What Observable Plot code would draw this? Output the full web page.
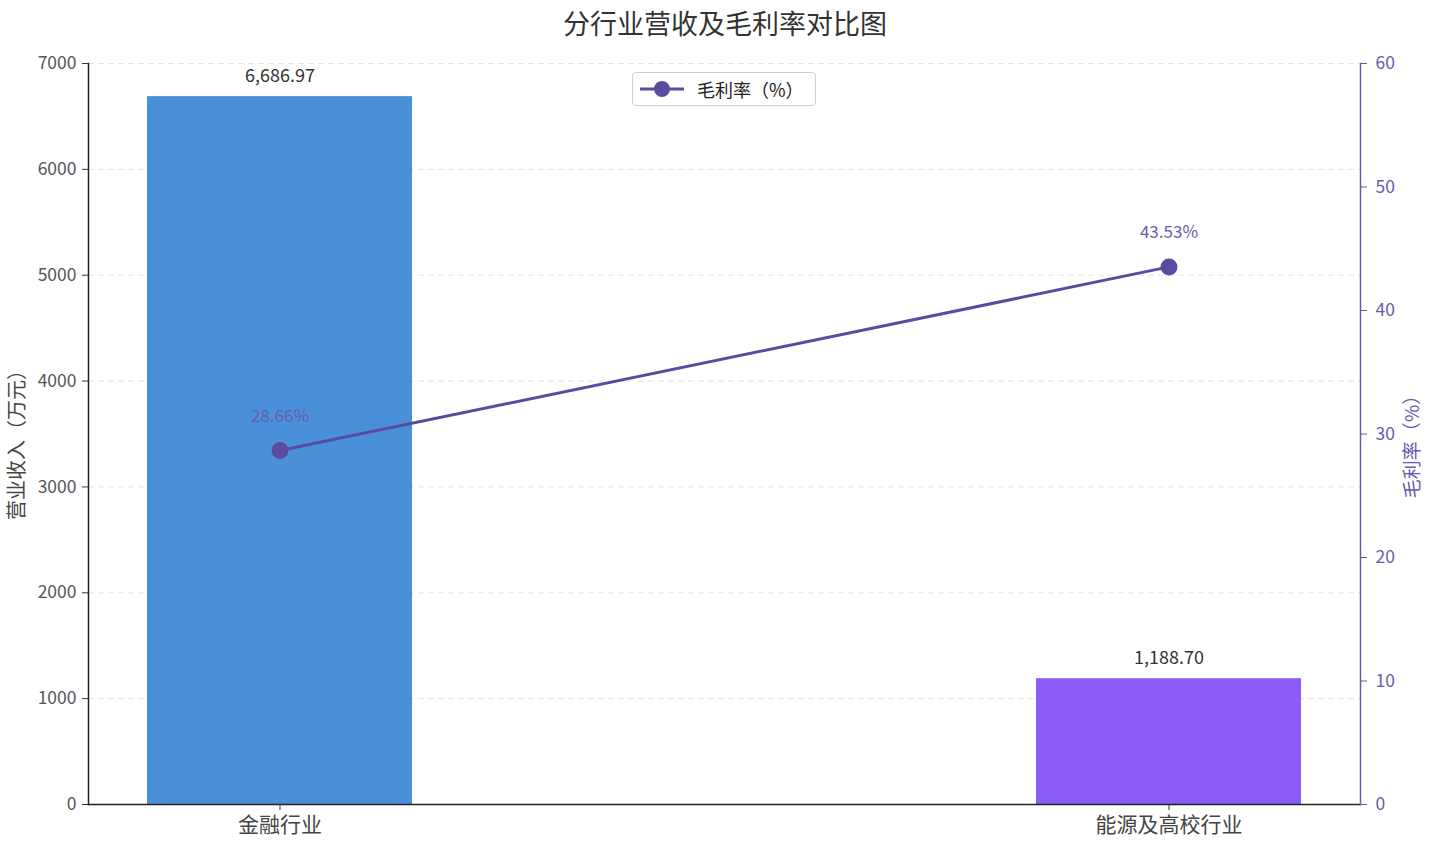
<!DOCTYPE html>
<html>
<head>
<meta charset="utf-8">
<script src="https://cdn.jsdelivr.net/npm/d3@7"></script>
<script src="https://cdn.jsdelivr.net/npm/@observablehq/plot@0.6"></script>
<style>
  body { margin: 0; background: #fff; font-family: "Noto Sans CJK SC", "Noto Sans", sans-serif; }
  #wrap { position: relative; width: 1432px; height: 844px; }
  #title { height: 45px; line-height: 45px; text-align: center; font-size: 27px; color: #333; padding-left: 18px; box-sizing: border-box; }
  #legend { position: absolute; left: 632px; top: 72px; width: 182px; height: 32px; border: 1px solid #cfcfcf; border-radius: 4px; background: rgba(255,255,255,0.85); display: flex; align-items: center; font-size: 18px; color: #222; }
  #legend svg { margin-left: 7px; margin-right: 13px; }
</style>
</head>
<body>
<div id="wrap">
  <div id="title">分行业营收及毛利率对比图</div>
  <div id="chart"></div>
  <div id="legend"><svg width="44" height="20"><line x1="0" y1="10" x2="44" y2="10" stroke="#5b4ba0" stroke-width="3"/><circle cx="22" cy="10" r="8" fill="#5b4ba0"/></svg><span>毛利率（%）</span></div>
</div>
<script>
const categories = ["金融行业", "能源及高校行业"];
const revenue = [6686.97, 1188.70];
const margin = [28.66, 43.53];
const barColors = ["#4a90d9", "#8b5cf6"];
const leftTicks = [0, 1000, 2000, 3000, 4000, 5000, 6000, 7000];
const rightTicks = [0, 10, 20, 30, 40, 50, 60];

const yMax = 7000, rMax = 60;
const toY = r => r * yMax / rMax;
const lineColor = "#5b4ba0";
const axisPurple = "#6a5aad";

const data = categories.map((c, i) => ({cat: c, rev: revenue[i], rate: margin[i], ry: toY(margin[i]), color: barColors[i]}));
const font = "Noto Sans CJK SC";

const chart = Plot.plot({
  width: 1432,
  height: 799,
  marginTop: 18,
  marginBottom: 40,
  marginLeft: 88,
  marginRight: 72,
  style: {fontFamily: font, background: "transparent", overflow: "visible"},
  x: {domain: categories, paddingInner: 0.702, paddingOuter: 0.066, label: null},
  y: {domain: [0, yMax], label: null},
  marks: [
    Plot.gridY(leftTicks, {stroke: "#d8d8d8", strokeOpacity: 0.7, strokeDasharray: "6,4", strokeWidth: 1}),
    Plot.barY(data, {x: "cat", y: "rev", fill: "color"}),
    Plot.text(data, {x: "cat", y: "rev", text: d => d3.format(",.2f")(d.rev), dy: -20, fontSize: 18, fill: "#333"}),
    Plot.frame({anchor: "left", stroke: "#222", strokeWidth: 1.5}),
    Plot.frame({anchor: "bottom", stroke: "#222", strokeWidth: 1.5}),
    Plot.frame({anchor: "right", stroke: axisPurple, strokeWidth: 1.5}),
    Plot.axisY(leftTicks, {anchor: "left", tickSize: 6, tickPadding: 6, fontSize: 17.5, color: "#555", stroke: "#333", label: null, tickFormat: d => String(d)}),
    Plot.axisY(rightTicks.map(toY), {anchor: "right", tickSize: 6, tickPadding: 9, fontSize: 17.5, color: axisPurple, label: null, tickFormat: d => String(Math.round(d * rMax / yMax))}),
    Plot.axisX({anchor: "bottom", tickSize: 6, tickPadding: 7, fontSize: 21, color: "#444", stroke: "#333", label: null}),
    Plot.text(["营业收入（万元）"], {frameAnchor: "left", textAnchor: "middle", dx: -71, dy: 6, rotate: -90, fontSize: 20, fill: "#444"}),
    Plot.text(["毛利率（%）"], {frameAnchor: "right", textAnchor: "middle", dx: 52, dy: 8, rotate: -90, fontSize: 19, fill: axisPurple}),
    Plot.line(data, {x: "cat", y: "ry", stroke: lineColor, strokeWidth: 3}),
    Plot.dot(data, {x: "cat", y: "ry", r: 8.5, fill: lineColor, stroke: null}),
    Plot.text(data, {x: "cat", y: "ry", text: d => d3.format(".2f")(d.rate) + "%", dy: -34, fontSize: 17, fill: axisPurple})
  ]
});
document.getElementById("chart").appendChild(chart);
</script>
</body>
</html>
